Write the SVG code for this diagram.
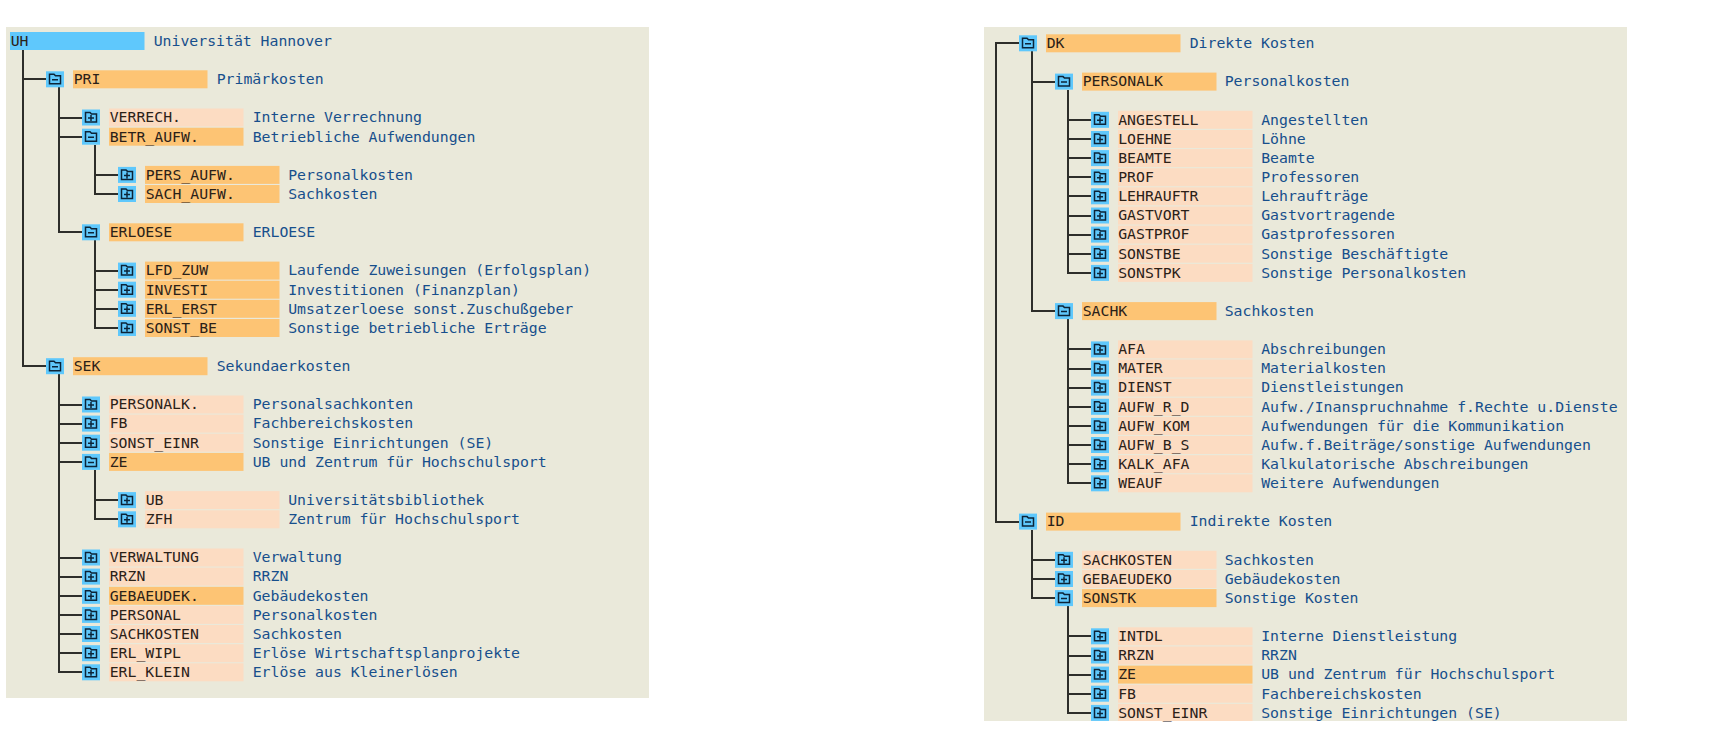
<svg xmlns="http://www.w3.org/2000/svg" width="1713" height="747" viewBox="0 0 1713 747">
<style>
text{font-family:"DejaVu Sans Mono","Liberation Mono",monospace;font-size:14.8px;white-space:pre;transform:translate(-.3px,-.6px)}
.k{fill:#2b2118}.v{fill:#174f8c}
.d,.l,.u{height:18px;width:134.5px}
.d{fill:#fdc474}.l{fill:#fcdcc2}.u{fill:#5fc8fc}
.ln{fill:none;stroke:#2e2e2a;stroke-width:2;shape-rendering:crispEdges}
.ic{fill:#5fc8fc}.f{fill:none;stroke:#0c2438;stroke-width:1.5}
</style>
<defs>
<g id="minus"><rect class="ic" width="18" height="16"/><path class="f" d="M3.5 4.5V3H8L9.5 4.5H14.5V12.5H3.5ZM6 8.5H12"/></g>
<g id="plus"><rect class="ic" width="18" height="16"/><path class="f" d="M3.5 4.5V3H8L9.5 4.5H14.5V12.5H3.5ZM6 8.5H12M9 5.5V11.5"/></g>
</defs>
<rect width="1713" height="747" fill="#fff"/>
<g id="panels" fill="#eae9da"><rect x="6" y="27" width="643" height="671"/><rect x="984" y="27" width="643" height="694"/></g>
<g id="connectors" class="ln">
<path d="M23 50V79.3H46"/><path d="M23 50V366.2H46"/>
<path d="M58.5 87V117.5H82"/><path d="M58.5 87V136.7H82"/><path d="M58.5 87V232.3H82"/>
<path d="M94.5 145V174.9H118"/><path d="M94.5 145V194H118"/>
<path d="M94.5 240V270.6H118"/><path d="M94.5 240V289.7H118"/><path d="M94.5 240V308.8H118"/><path d="M94.5 240V328H118"/>
<path d="M58.5 374V404.5H82"/><path d="M58.5 374V423.6H82"/><path d="M58.5 374V442.7H82"/><path d="M58.5 374V461.9H82"/><path d="M58.5 374V557.5H82"/><path d="M58.5 374V576.6H82"/><path d="M58.5 374V595.8H82"/><path d="M58.5 374V614.9H82"/><path d="M58.5 374V634H82"/><path d="M58.5 374V653.2H82"/><path d="M58.5 374V672.3H82"/>
<path d="M94.5 470V500.1H118"/><path d="M94.5 470V519.3H118"/>
<path d="M1019 43.3H995.5V521.6H1019"/>
<path d="M1031.5 51V81.6H1055"/><path d="M1031.5 51V311.1H1055"/>
<path d="M1067.5 90V119.8H1091"/><path d="M1067.5 90V139H1091"/><path d="M1067.5 90V158.1H1091"/><path d="M1067.5 90V177.2H1091"/><path d="M1067.5 90V196.3H1091"/><path d="M1067.5 90V215.5H1091"/><path d="M1067.5 90V234.6H1091"/><path d="M1067.5 90V253.7H1091"/><path d="M1067.5 90V272.9H1091"/>
<path d="M1067.5 319V349.4H1091"/><path d="M1067.5 319V368.5H1091"/><path d="M1067.5 319V387.6H1091"/><path d="M1067.5 319V406.8H1091"/><path d="M1067.5 319V425.9H1091"/><path d="M1067.5 319V445H1091"/><path d="M1067.5 319V464.2H1091"/><path d="M1067.5 319V483.3H1091"/>
<path d="M1031.5 530V559.8H1055"/><path d="M1031.5 530V579H1055"/><path d="M1031.5 530V598.1H1055"/>
<path d="M1067.5 606V636.3H1091"/><path d="M1067.5 606V655.5H1091"/><path d="M1067.5 606V674.6H1091"/><path d="M1067.5 606V693.7H1091"/><path d="M1067.5 606V712.9H1091"/>
</g>
<g id="n-UH"><rect class="u" x="10" y="32"/><text class="k" x="11" y="46.5">UH</text><text class="v" x="154" y="46.5">Universität Hannover</text></g>
<g id="n-PRI"><use href="#minus" x="46" y="71.3"/><rect class="d" x="73" y="70.3"/><text class="k" x="74" y="84.8">PRI</text><text class="v" x="217" y="84.8">Primärkosten</text></g>
<g id="n-VERRECH"><use href="#plus" x="82" y="109.5"/><rect class="l" x="109" y="108.5"/><text class="k" x="110" y="123">VERRECH.</text><text class="v" x="253" y="123">Interne Verrechnung</text></g>
<g id="n-BETR_AUFW"><use href="#minus" x="82" y="128.7"/><rect class="d" x="109" y="127.7"/><text class="k" x="110" y="142.2">BETR_AUFW.</text><text class="v" x="253" y="142.2">Betriebliche Aufwendungen</text></g>
<g id="n-PERS_AUFW"><use href="#plus" x="118" y="166.9"/><rect class="d" x="145" y="165.9"/><text class="k" x="146" y="180.4">PERS_AUFW.</text><text class="v" x="288.5" y="180.4">Personalkosten</text></g>
<g id="n-SACH_AUFW"><use href="#plus" x="118" y="186"/><rect class="d" x="145" y="185"/><text class="k" x="146" y="199.5">SACH_AUFW.</text><text class="v" x="288.5" y="199.5">Sachkosten</text></g>
<g id="n-ERLOESE"><use href="#minus" x="82" y="224.3"/><rect class="d" x="109" y="223.3"/><text class="k" x="110" y="237.8">ERLOESE</text><text class="v" x="253" y="237.8">ERLOESE</text></g>
<g id="n-LFD_ZUW"><use href="#plus" x="118" y="262.6"/><rect class="d" x="145" y="261.6"/><text class="k" x="146" y="276.1">LFD_ZUW</text><text class="v" x="288.5" y="276.1">Laufende Zuweisungen (Erfolgsplan)</text></g>
<g id="n-INVESTI"><use href="#plus" x="118" y="281.7"/><rect class="d" x="145" y="280.7"/><text class="k" x="146" y="295.2">INVESTI</text><text class="v" x="288.5" y="295.2">Investitionen (Finanzplan)</text></g>
<g id="n-ERL_ERST"><use href="#plus" x="118" y="300.8"/><rect class="d" x="145" y="299.8"/><text class="k" x="146" y="314.3">ERL_ERST</text><text class="v" x="288.5" y="314.3">Umsatzerloese sonst.Zuschußgeber</text></g>
<g id="n-SONST_BE"><use href="#plus" x="118" y="320"/><rect class="d" x="145" y="319"/><text class="k" x="146" y="333.5">SONST_BE</text><text class="v" x="288.5" y="333.5">Sonstige betriebliche Erträge</text></g>
<g id="n-SEK"><use href="#minus" x="46" y="358.2"/><rect class="d" x="73" y="357.2"/><text class="k" x="74" y="371.7">SEK</text><text class="v" x="217" y="371.7">Sekundaerkosten</text></g>
<g id="n-PERSONALK-L"><use href="#plus" x="82" y="396.5"/><rect class="l" x="109" y="395.5"/><text class="k" x="110" y="410">PERSONALK.</text><text class="v" x="253" y="410">Personalsachkonten</text></g>
<g id="n-FB-L"><use href="#plus" x="82" y="415.6"/><rect class="l" x="109" y="414.6"/><text class="k" x="110" y="429.1">FB</text><text class="v" x="253" y="429.1">Fachbereichskosten</text></g>
<g id="n-SONST_EINR-L"><use href="#plus" x="82" y="434.7"/><rect class="l" x="109" y="433.7"/><text class="k" x="110" y="448.2">SONST_EINR</text><text class="v" x="253" y="448.2">Sonstige Einrichtungen (SE)</text></g>
<g id="n-ZE-L"><use href="#minus" x="82" y="453.9"/><rect class="d" x="109" y="452.9"/><text class="k" x="110" y="467.4">ZE</text><text class="v" x="253" y="467.4">UB und Zentrum für Hochschulsport</text></g>
<g id="n-UB"><use href="#plus" x="118" y="492.1"/><rect class="l" x="145" y="491.1"/><text class="k" x="146" y="505.6">UB</text><text class="v" x="288.5" y="505.6">Universitätsbibliothek</text></g>
<g id="n-ZFH"><use href="#plus" x="118" y="511.3"/><rect class="l" x="145" y="510.3"/><text class="k" x="146" y="524.8">ZFH</text><text class="v" x="288.5" y="524.8">Zentrum für Hochschulsport</text></g>
<g id="n-VERWALTUNG"><use href="#plus" x="82" y="549.5"/><rect class="l" x="109" y="548.5"/><text class="k" x="110" y="563">VERWALTUNG</text><text class="v" x="253" y="563">Verwaltung</text></g>
<g id="n-RRZN-L"><use href="#plus" x="82" y="568.6"/><rect class="l" x="109" y="567.6"/><text class="k" x="110" y="582.1">RRZN</text><text class="v" x="253" y="582.1">RRZN</text></g>
<g id="n-GEBAEUDEK"><use href="#plus" x="82" y="587.8"/><rect class="d" x="109" y="586.8"/><text class="k" x="110" y="601.3">GEBAEUDEK.</text><text class="v" x="253" y="601.3">Gebäudekosten</text></g>
<g id="n-PERSONAL"><use href="#plus" x="82" y="606.9"/><rect class="l" x="109" y="605.9"/><text class="k" x="110" y="620.4">PERSONAL</text><text class="v" x="253" y="620.4">Personalkosten</text></g>
<g id="n-SACHKOSTEN-L"><use href="#plus" x="82" y="626"/><rect class="l" x="109" y="625"/><text class="k" x="110" y="639.5">SACHKOSTEN</text><text class="v" x="253" y="639.5">Sachkosten</text></g>
<g id="n-ERL_WIPL"><use href="#plus" x="82" y="645.2"/><rect class="l" x="109" y="644.2"/><text class="k" x="110" y="658.7">ERL_WIPL</text><text class="v" x="253" y="658.7">Erlöse Wirtschaftsplanprojekte</text></g>
<g id="n-ERL_KLEIN"><use href="#plus" x="82" y="664.3"/><rect class="l" x="109" y="663.3"/><text class="k" x="110" y="677.8">ERL_KLEIN</text><text class="v" x="253" y="677.8">Erlöse aus Kleinerlösen</text></g>
<g id="n-DK"><use href="#minus" x="1019" y="35.3"/><rect class="d" x="1046" y="34.3"/><text class="k" x="1047" y="48.8">DK</text><text class="v" x="1190" y="48.8">Direkte Kosten</text></g>
<g id="n-PERSONALK"><use href="#minus" x="1055" y="73.6"/><rect class="d" x="1082" y="72.6"/><text class="k" x="1083" y="87.1">PERSONALK</text><text class="v" x="1225" y="87.1">Personalkosten</text></g>
<g id="n-ANGESTELL"><use href="#plus" x="1091" y="111.8"/><rect class="l" x="1118" y="110.8"/><text class="k" x="1118.5" y="125.3">ANGESTELL</text><text class="v" x="1261.5" y="125.3">Angestellten</text></g>
<g id="n-LOEHNE"><use href="#plus" x="1091" y="131"/><rect class="l" x="1118" y="130"/><text class="k" x="1118.5" y="144.5">LOEHNE</text><text class="v" x="1261.5" y="144.5">Löhne</text></g>
<g id="n-BEAMTE"><use href="#plus" x="1091" y="150.1"/><rect class="l" x="1118" y="149.1"/><text class="k" x="1118.5" y="163.6">BEAMTE</text><text class="v" x="1261.5" y="163.6">Beamte</text></g>
<g id="n-PROF"><use href="#plus" x="1091" y="169.2"/><rect class="l" x="1118" y="168.2"/><text class="k" x="1118.5" y="182.7">PROF</text><text class="v" x="1261.5" y="182.7">Professoren</text></g>
<g id="n-LEHRAUFTR"><use href="#plus" x="1091" y="188.3"/><rect class="l" x="1118" y="187.3"/><text class="k" x="1118.5" y="201.8">LEHRAUFTR</text><text class="v" x="1261.5" y="201.8">Lehraufträge</text></g>
<g id="n-GASTVORT"><use href="#plus" x="1091" y="207.5"/><rect class="l" x="1118" y="206.5"/><text class="k" x="1118.5" y="221">GASTVORT</text><text class="v" x="1261.5" y="221">Gastvortragende</text></g>
<g id="n-GASTPROF"><use href="#plus" x="1091" y="226.6"/><rect class="l" x="1118" y="225.6"/><text class="k" x="1118.5" y="240.1">GASTPROF</text><text class="v" x="1261.5" y="240.1">Gastprofessoren</text></g>
<g id="n-SONSTBE"><use href="#plus" x="1091" y="245.7"/><rect class="l" x="1118" y="244.7"/><text class="k" x="1118.5" y="259.2">SONSTBE</text><text class="v" x="1261.5" y="259.2">Sonstige Beschäftigte</text></g>
<g id="n-SONSTPK"><use href="#plus" x="1091" y="264.9"/><rect class="l" x="1118" y="263.9"/><text class="k" x="1118.5" y="278.4">SONSTPK</text><text class="v" x="1261.5" y="278.4">Sonstige Personalkosten</text></g>
<g id="n-SACHK"><use href="#minus" x="1055" y="303.1"/><rect class="d" x="1082" y="302.1"/><text class="k" x="1083" y="316.6">SACHK</text><text class="v" x="1225" y="316.6">Sachkosten</text></g>
<g id="n-AFA"><use href="#plus" x="1091" y="341.4"/><rect class="l" x="1118" y="340.4"/><text class="k" x="1118.5" y="354.9">AFA</text><text class="v" x="1261.5" y="354.9">Abschreibungen</text></g>
<g id="n-MATER"><use href="#plus" x="1091" y="360.5"/><rect class="l" x="1118" y="359.5"/><text class="k" x="1118.5" y="374">MATER</text><text class="v" x="1261.5" y="374">Materialkosten</text></g>
<g id="n-DIENST"><use href="#plus" x="1091" y="379.6"/><rect class="l" x="1118" y="378.6"/><text class="k" x="1118.5" y="393.1">DIENST</text><text class="v" x="1261.5" y="393.1">Dienstleistungen</text></g>
<g id="n-AUFW_R_D"><use href="#plus" x="1091" y="398.8"/><rect class="l" x="1118" y="397.8"/><text class="k" x="1118.5" y="412.3">AUFW_R_D</text><text class="v" x="1261.5" y="412.3">Aufw./Inanspruchnahme f.Rechte u.Dienste</text></g>
<g id="n-AUFW_KOM"><use href="#plus" x="1091" y="417.9"/><rect class="l" x="1118" y="416.9"/><text class="k" x="1118.5" y="431.4">AUFW_KOM</text><text class="v" x="1261.5" y="431.4">Aufwendungen für die Kommunikation</text></g>
<g id="n-AUFW_B_S"><use href="#plus" x="1091" y="437"/><rect class="l" x="1118" y="436"/><text class="k" x="1118.5" y="450.5">AUFW_B_S</text><text class="v" x="1261.5" y="450.5">Aufw.f.Beiträge/sonstige Aufwendungen</text></g>
<g id="n-KALK_AFA"><use href="#plus" x="1091" y="456.2"/><rect class="l" x="1118" y="455.2"/><text class="k" x="1118.5" y="469.7">KALK_AFA</text><text class="v" x="1261.5" y="469.7">Kalkulatorische Abschreibungen</text></g>
<g id="n-WEAUF"><use href="#plus" x="1091" y="475.3"/><rect class="l" x="1118" y="474.3"/><text class="k" x="1118.5" y="488.8">WEAUF</text><text class="v" x="1261.5" y="488.8">Weitere Aufwendungen</text></g>
<g id="n-ID"><use href="#minus" x="1019" y="513.6"/><rect class="d" x="1046" y="512.6"/><text class="k" x="1047" y="527.1">ID</text><text class="v" x="1190" y="527.1">Indirekte Kosten</text></g>
<g id="n-SACHKOSTEN"><use href="#plus" x="1055" y="551.8"/><rect class="l" x="1082" y="550.8"/><text class="k" x="1083" y="565.3">SACHKOSTEN</text><text class="v" x="1225" y="565.3">Sachkosten</text></g>
<g id="n-GEBAEUDEKO"><use href="#plus" x="1055" y="571"/><rect class="l" x="1082" y="570"/><text class="k" x="1083" y="584.5">GEBAEUDEKO</text><text class="v" x="1225" y="584.5">Gebäudekosten</text></g>
<g id="n-SONSTK"><use href="#minus" x="1055" y="590.1"/><rect class="d" x="1082" y="589.1"/><text class="k" x="1083" y="603.6">SONSTK</text><text class="v" x="1225" y="603.6">Sonstige Kosten</text></g>
<g id="n-INTDL"><use href="#plus" x="1091" y="628.3"/><rect class="l" x="1118" y="627.3"/><text class="k" x="1118.5" y="641.8">INTDL</text><text class="v" x="1261.5" y="641.8">Interne Dienstleistung</text></g>
<g id="n-RRZN"><use href="#plus" x="1091" y="647.5"/><rect class="l" x="1118" y="646.5"/><text class="k" x="1118.5" y="661">RRZN</text><text class="v" x="1261.5" y="661">RRZN</text></g>
<g id="n-ZE"><use href="#plus" x="1091" y="666.6"/><rect class="d" x="1118" y="665.6"/><text class="k" x="1118.5" y="680.1">ZE</text><text class="v" x="1261.5" y="680.1">UB und Zentrum für Hochschulsport</text></g>
<g id="n-FB"><use href="#plus" x="1091" y="685.7"/><rect class="l" x="1118" y="684.7"/><text class="k" x="1118.5" y="699.2">FB</text><text class="v" x="1261.5" y="699.2">Fachbereichskosten</text></g>
<g id="n-SONST_EINR"><use href="#plus" x="1091" y="704.9"/><rect class="l" x="1118" y="703.9" style="height:17.1px"/><text class="k" x="1118.5" y="718.4">SONST_EINR</text><text class="v" x="1261.5" y="718.4">Sonstige Einrichtungen (SE)</text></g>
</svg>
